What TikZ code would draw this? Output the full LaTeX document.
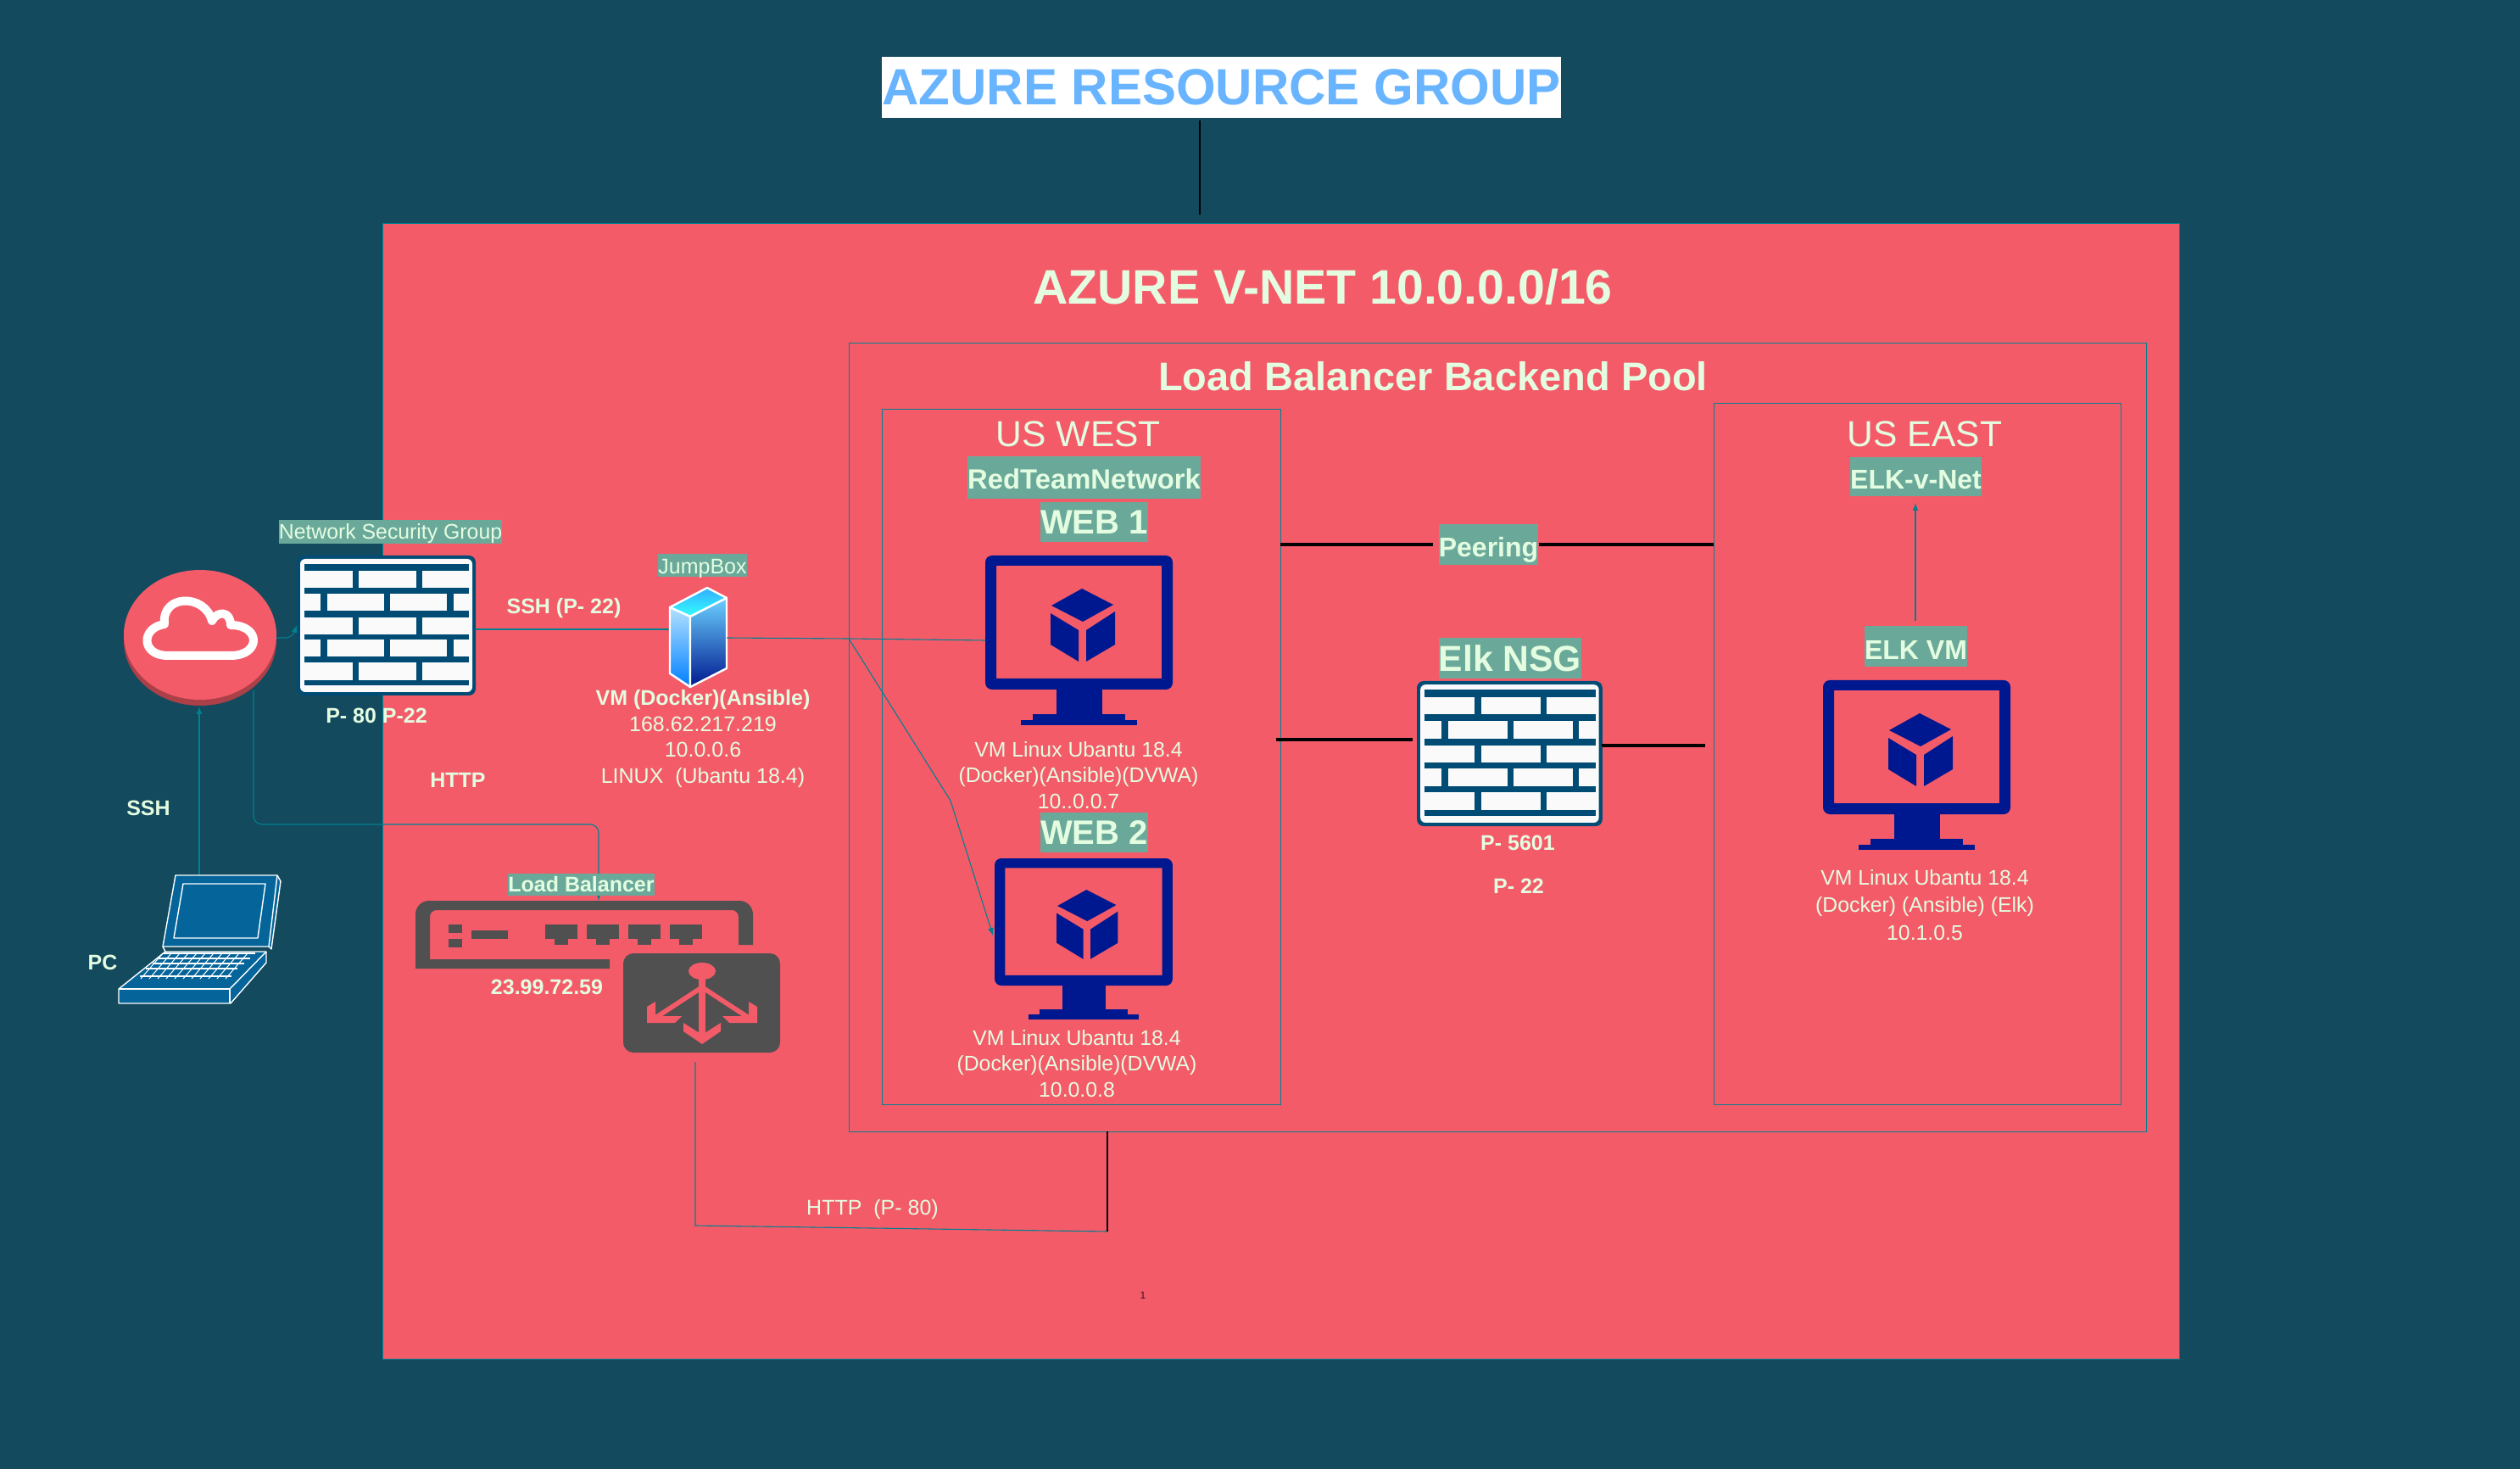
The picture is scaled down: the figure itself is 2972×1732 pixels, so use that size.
\documentclass[tikz,border=0pt]{standalone}
\usepackage{fontspec}
\setmainfont{Liberation Sans}
\usetikzlibrary{positioning}
\definecolor{seabg}{HTML}{134A5E}
\definecolor{vnetred}{HTML}{F45B69}
\definecolor{mint}{HTML}{E4FDE1}
\definecolor{tagbg}{HTML}{6AA99A}
\definecolor{wireteal}{HTML}{028090}
\definecolor{vmblue}{HTML}{00188F}
\definecolor{wallblue}{HTML}{004C75}
\definecolor{lbgrey}{HTML}{505050}
\definecolor{padblue}{HTML}{05659A}
\definecolor{skytext}{HTML}{69B4FF}
\newcommand{\sink}[2]{\raisebox{-#1}[0pt][0pt]{#2}}
\tikzset{
  wire/.style={color=wireteal, line width=0.55pt},
  heavy/.style={color=black, line width=1.7pt},
  zone/.style={draw=wireteal, line width=0.4pt},
  tag/.style={fill=tagbg, text=mint, inner sep=0pt},
  say/.style={text=mint, inner sep=0pt, align=center},
  firewall/.pic={
    \fill [wallblue, rounded corners=4pt] (0, 0) rectangle (211, 165);
    \fill [white!98!black, rounded corners=3pt] (4, 4) rectangle (207, 161);
    \foreach \a/\b in {10/18, 38/45, 65.5/73, 93/99, 119.5/126, 147/153} \fill [wallblue] (9, \a) rectangle (203, \b);
    \foreach \a/\b in {18/38, 73/93, 126/147} {
      \fill [wallblue] (66, \a) rectangle (73, \b);
      \fill [wallblue] (140.5, \a) rectangle (148, \b);
    }
    \foreach \a/\b in {45/65.5, 99/119.5} {
      \fill [wallblue] (28, \a) rectangle (35.5, \b);
      \fill [wallblue] (103, \a) rectangle (110, \b);
      \fill [wallblue] (177, \a) rectangle (184.5, \b);
    }
    \coordinate (-e) at (211, 87);
    \coordinate (-w) at (0, 82);
  },
  monitor/.pic={
    \fill [vmblue, even odd rule] [rounded corners=4pt] (0, 0) rectangle (221, 158) [sharp corners] (13, 12) rectangle (208, 145);
    \fill [vmblue] (84, 158) rectangle (138, 187);
    \fill [vmblue] (56, 187) rectangle (165, 194);
    \fill [vmblue] (42, 194) rectangle (179, 200);
    \fill [vmblue] (114, 39) -- (151, 58) -- (115, 78) -- (78, 59) -- cycle;
    \fill [vmblue] (77, 68) -- (110, 88) -- (110, 125) -- (77, 105) -- cycle;
    \fill [vmblue] (153, 66) -- (119, 88) -- (119, 125) -- (153, 105) -- cycle;
    \coordinate (-w) at (0, 100);
  },
}

\begin{document}
\begin{tikzpicture}[x=0.5pt, y=-0.5pt]
\useasboundingbox (0, 0) rectangle (2972, 1732);
\fill [seabg] (0, 0) rectangle (2972, 1732);
\fill [vnetred] (451, 263) rectangle (2570, 1602);
\draw [color=wireteal, line width=0.3pt] (451, 263) rectangle (2570, 1602);

% titles
\node [fill=white, text=skytext, inner sep=0pt, minimum width=400.5pt, minimum height=36pt, font=\fontsize{30}{30}\selectfont\bfseries] (rgroup) at (1440.5, 103) {AZURE RESOURCE GROUP};
\coordinate (vnettop) at (1415, 253);
\draw [line width=1pt] (1415, 142) -- (vnettop);
\node [say, font=\fontsize{28.6}{30}\selectfont\bfseries] (vnet) at (1560, 338) {AZURE V-NET 10.0.0.0/16};

% zones
\draw [zone] (1001, 404) rectangle (2531, 1334);
\draw [zone] (1040, 482) rectangle (1510, 1302);
\draw [zone] (2021, 475) rectangle (2501, 1302);
\node [say, font=\fontsize{23.5}{24}\selectfont\bfseries] (pool) at (1690, 444) {Load Balancer Backend Pool};
\node [say, font=\fontsize{21.3}{22}\selectfont] (west) at (1272, 512) {US WEST};
\node [say, font=\fontsize{21.3}{22}\selectfont] (east) at (2270, 512) {US EAST};

% left side
\fill [black!30!vnetred] (236, 755.5) ellipse (90 and 76.5);
\fill [vnetred] (236, 748.5) ellipse (90 and 76.5);
\draw [white, line width=5pt, line join=round] (198, 773) .. controls (166, 773) and (166, 740) .. (194, 736) .. controls (190, 700) and (242, 700) .. (250, 732) .. controls (256, 720) and (272, 720) .. (272, 737) .. controls (308, 737) and (308, 773) .. (272, 773) -- cycle;
\coordinate (cloudr) at (326, 752);
\coordinate (cloudb) at (235, 833);
\coordinate (cloudd) at (299, 814);

\pic (nsg) at (350, 655) {firewall};
\draw [-latex, wire, rounded corners=4pt] (cloudr) -- (345, 752) -- (nsg-w);
\node [tag, minimum height=14pt, font=\fontsize{12.4}{13}\selectfont] (nsgtag) at (460.5, 627) {\sink{4.5pt}{Network Security Group}};
\node [say, font=\fontsize{12.5}{13}\selectfont\bfseries] (nsgport) at (444, 844) {P- 80 P-22};

% jumpbox server
\coordinate (jumpl) at (790, 742);
\coordinate (jumpr) at (857, 752);
\draw [wire] (nsg-e) -- (jumpl);
\shade [top color=cyan!60!blue!80!white, bottom color=cyan!80!white, draw=white, line width=1.2pt, line join=round] (834, 693) -- (857, 705) -- (814, 727) -- (790, 716) -- cycle;
\shade [top color=blue!40!cyan!30!white, bottom color=blue!50!cyan, draw=white, line width=1.2pt, line join=round] (790, 716) -- (814, 727) -- (814, 810) -- (790, 794) -- cycle;
\shade [top color=blue!30!white!60!cyan, bottom color=vmblue, draw=white, line width=1.2pt, line join=round] (814, 727) -- (857, 705) -- (857, 788) -- (814, 810) -- cycle;
\node [tag, minimum height=13.5pt, font=\fontsize{12.5}{13}\selectfont] (jumptag) at (828.5, 666.5) {\sink{5.2pt}{JumpBox}};
\node [say, font=\fontsize{12.5}{15.2}\selectfont] (jumptext) at (829, 871) {\textbf{VM (Docker)(Ansible)}\\168.62.217.219\\10.0.0.6\\LINUX\ \ (Ubantu 18.4)};
\node [say, font=\fontsize{12.5}{13}\selectfont\bfseries] (sshport) at (665, 717) {SSH (P- 22)};
\node [say, font=\fontsize{12.5}{13}\selectfont\bfseries] (httplbl) at (540, 920) {HTTP};
\node [say, font=\fontsize{12.5}{13}\selectfont\bfseries] (sshlbl) at (175, 953) {SSH};
\node [say, font=\fontsize{12.5}{13}\selectfont\bfseries] (pclbl) at (121, 1135) {PC};

% laptop
\coordinate (pctop) at (235, 1032);
\draw [-latex, wire] (pctop) -- (cloudb);
\begin{scope}[draw=white, fill=padblue, line width=0.7pt, line join=round]
\filldraw (207, 1032) -- (327, 1032) -- (331, 1039) -- (320, 1119) -- (317, 1116) -- (192, 1116) -- cycle;
\draw (327, 1032) -- (317, 1116);
\draw (205, 1106) -- (216, 1042) -- (313, 1042) -- (304, 1106) -- cycle;
\filldraw (195, 1122) -- (314, 1122) -- (314, 1135) -- (272, 1183) -- (140, 1183) -- (140, 1166) -- cycle;
\draw (140, 1166) -- (271, 1166) -- (271, 1183);
\draw (271, 1166) -- (314, 1122);
\draw (192, 1116) -- (195, 1122);
\foreach \a/\b in {1124/193, 1130/187, 1136/180, 1142/172, 1151/165} \draw (\b, \a) -- (\b+108, \a);
\foreach \k in {0,1,...,10} \draw [line width=0.5pt] (192+10*\k, 1124) -- (166+10*\k, 1154);
\end{scope}

% load balancer
\coordinate (lbtop) at (706, 1062);
\draw [-latex, wire, rounded corners=5pt] (cloudd) -- (299, 972) -- (706, 972) -- (lbtop);
\fill [lbgrey] (490, 1142) -- (490, 1082) [rounded corners=8pt] -- (490, 1062) -- (888, 1062) [sharp corners] -- (888, 1114) -- (871, 1114) [rounded corners=4pt] -- (871, 1073) -- (507, 1073) [sharp corners] -- (507, 1131) -- (719, 1131) -- (719, 1142) -- cycle;
\fill [lbgrey] (529, 1090) rectangle (545, 1100);
\fill [lbgrey] (529, 1107) rectangle (545, 1117);
\fill [lbgrey] (556, 1097) rectangle (599, 1107);
\foreach \x in {643, 692, 741, 790} {
  \fill [lbgrey] (\x, 1090) rectangle (\x+38, 1107);
  \fill [lbgrey] (\x+11, 1107) rectangle (\x+27, 1114);
}
\node [tag, minimum width=86.5pt, minimum height=13pt, font=\fontsize{12.5}{13}\selectfont\bfseries] (lbtag) at (685.5, 1043) {Load Balancer};
\node [say, font=\fontsize{12.5}{13}\selectfont\bfseries] (lbip) at (645, 1164) {23.99.72.59};
\fill [lbgrey, rounded corners=6pt] (735, 1124) rectangle (920, 1241);
\fill [vnetred] (828, 1145) ellipse (16 and 10);
\draw [vnetred, line width=4pt] (828, 1145) -- (828, 1222);
\draw [vnetred, line width=2.8pt] (828, 1164) -- (773, 1200);
\draw [vnetred, line width=2.8pt] (828, 1164) -- (883, 1200);
\fill [vnetred] (763, 1187) -- (773, 1181) -- (773, 1198) -- (804, 1198) -- (796, 1206) -- (763, 1206) -- cycle;
\fill [vnetred] (893, 1187) -- (883, 1181) -- (883, 1198) -- (852, 1198) -- (860, 1206) -- (893, 1206) -- cycle;
\fill [vnetred] (806, 1206) -- (806, 1216) -- (828, 1231) -- (850, 1216) -- (850, 1206) -- (828, 1220) -- cycle;

% http return line
\coordinate (lbbot) at (820, 1252);
\coordinate (poolb) at (1306, 1334);
\coordinate (poolc) at (1306, 1452);
\draw [wire] (lbbot) -- (820, 1445) -- (poolc);
\draw [color=black, line width=1.2pt] (poolb) -- (poolc);
\node [say, font=\fontsize{12.5}{13}\selectfont] (httpport) at (1029, 1426) {HTTP\ \ (P- 80)};
\node [text=black!80!vnetred, inner sep=0pt, font=\fontsize{6}{6}\selectfont] (pagemark) at (1348, 1527) {1};

% west side
\node [tag, minimum height=25pt, font=\fontsize{16.4}{17}\selectfont\bfseries] (rtn) at (1278.5, 563) {\sink{6.9pt}{RedTeamNetwork}};
\node [tag, minimum width=63.5pt, minimum height=23.5pt, font=\fontsize{20}{20}\selectfont\bfseries] (web1tag) at (1290.5, 615.5) {WEB 1};
\node [tag, minimum width=63.5pt, minimum height=23.5pt, font=\fontsize{20}{20}\selectfont\bfseries] (web2tag) at (1290.5, 981.5) {WEB 2};
\pic (web1) at (1162, 655) {monitor};
\pic [scale=0.95] (web2) at (1173, 1012) {monitor};
\coordinate (split) at (1001, 753);
\coordinate (bend) at (1121, 944);
\coordinate (web2in) at (1171, 1103);
\draw [wire] (jumpr) -- (split) -- (web1-w);
\draw [-latex, wire] (split) -- (bend) -- (web2in);
\node [say, font=\fontsize{12.4}{15.2}\selectfont] (web1text) at (1272, 914) {VM Linux Ubantu 18.4\\(Docker)(Ansible)(DVWA)\\10..0.0.7};
\node [say, font=\fontsize{12.4}{15.2}\selectfont] (web2text) at (1270, 1254) {VM Linux Ubantu 18.4\\(Docker)(Ansible)(DVWA)\\10.0.0.8};

% peering and elk nsg
\node [tag, minimum width=58.5pt, minimum height=24pt, font=\fontsize{16}{17}\selectfont\bfseries] (peer) at (1755.5, 642) {\sink{7.3pt}{Peering}};
\coordinate (wests) at (1510, 642);
\coordinate (easts) at (2021, 642);
\draw [heavy] (wests) -- (1690, 642);
\draw [heavy] (peer.east) -- (easts);
\node [tag, minimum height=24pt, font=\fontsize{21.3}{22}\selectfont\bfseries] (elknsg) at (1781, 776) {Elk NSG};
\pic [scale=1.037] (wall) at (1671, 803) {firewall};
\coordinate (walll) at (1505, 872);
\coordinate (wallr) at (2011, 879);
\draw [heavy] (walll) -- (1666, 872);
\draw [heavy] (1889, 879) -- (wallr);
\node [say, font=\fontsize{12.5}{13}\selectfont\bfseries] (p5601) at (1790, 994) {P- 5601};
\node [say, font=\fontsize{12.5}{13}\selectfont\bfseries] (p22) at (1791, 1045) {P- 22};

% east side
\node [tag, minimum width=77.5pt, minimum height=23pt, font=\fontsize{16}{17}\selectfont\bfseries] (elknet) at (2259.5, 562) {\sink{7.5pt}{ELK-v-Net}};
\node [tag, minimum width=60.5pt, minimum height=24pt, font=\fontsize{16}{17}\selectfont\bfseries] (elkvm) at (2259.5, 762) {\sink{7.8pt}{ELK VM}};
\coordinate (elkup) at (2259, 732);
\coordinate (elknetb) at (2259, 593);
\draw [-latex, wire] (elkup) -- (elknetb);
\pic (elk) at (2150, 802) {monitor};
\node [say, font=\fontsize{12.4}{16.4}\selectfont] (elktext) at (2270, 1067) {VM Linux Ubantu 18.4\\(Docker) (Ansible) (Elk)\\10.1.0.5};
\end{tikzpicture}
\end{document}
